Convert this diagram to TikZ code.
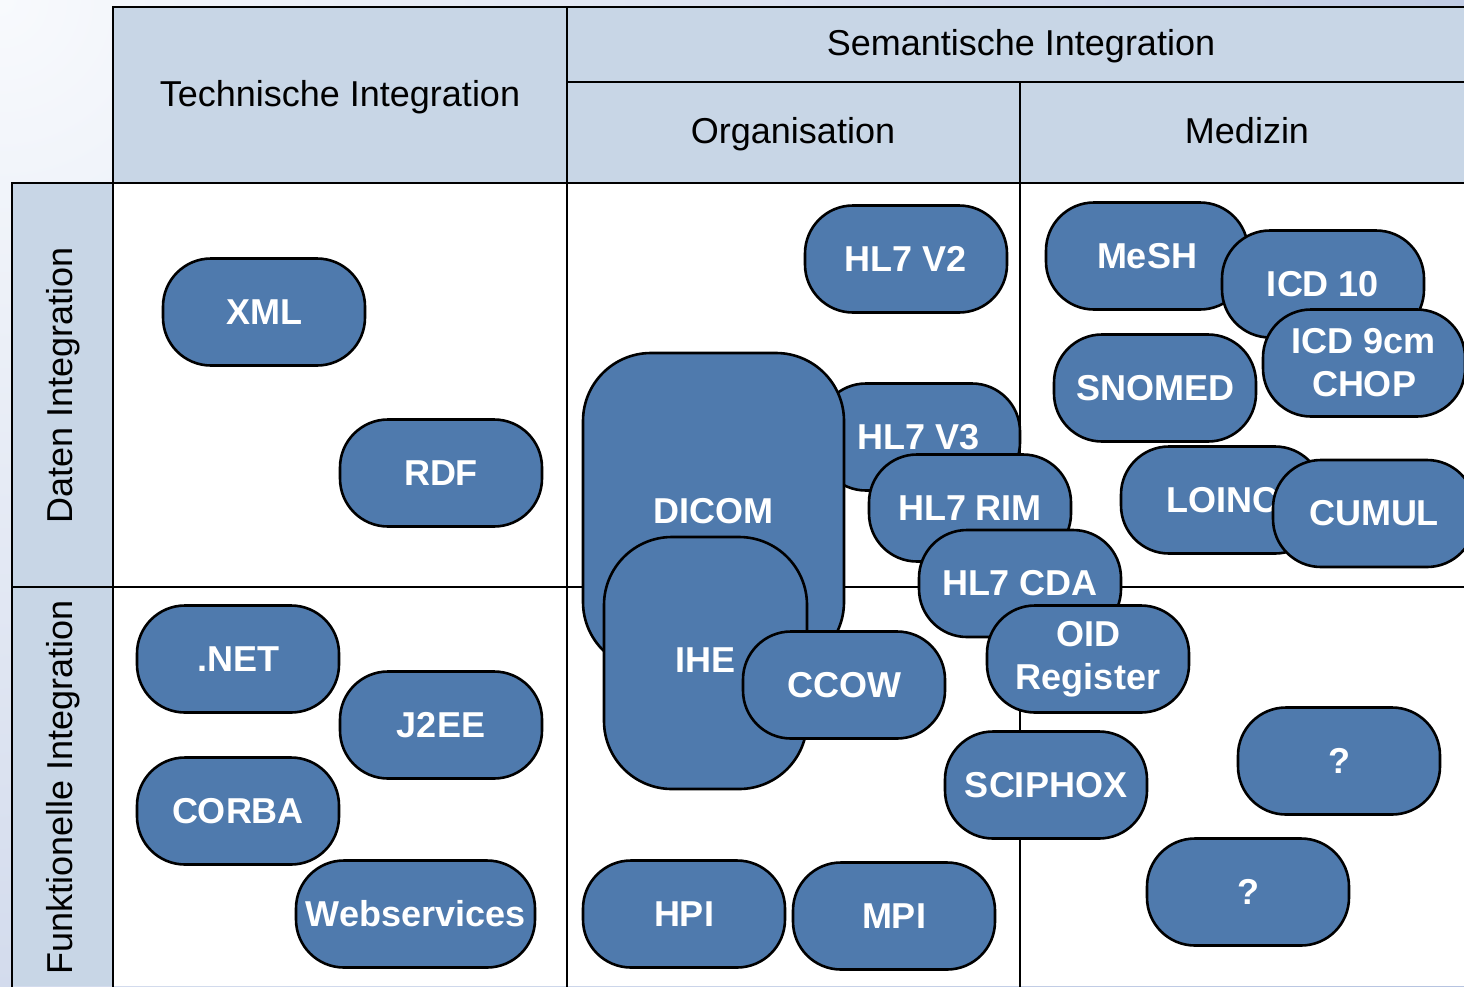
\documentclass[tikz,border=0pt]{standalone}
\usepackage{fontspec}
\setmainfont{Liberation Sans}
\definecolor{headfill}{RGB}{200,214,230}
\definecolor{pillfill}{RGB}{79,122,173}
\definecolor{bginner}{RGB}{248,250,253}
\definecolor{bgouter}{RGB}{128,150,200}
\tikzset{
  gridline/.style={line width=2.6pt, line cap=rect},
  headtext/.style={font=\fontsize{36}{43}\selectfont, text=black, inner sep=0pt},
  pill/.style={draw=black, line width=2.6pt, fill=pillfill, rounded corners=48pt,
    minimum width=202pt, minimum height=107pt, inner sep=0pt, align=center,
    text=white, font=\fontsize{36}{43}\selectfont\bfseries},
  bigpill/.style={pill, rounded corners=68pt},
}
\begin{document}
\begin{tikzpicture}[x=1pt,y=-1pt]
\useasboundingbox (0,0) rectangle (1464,986);
\clip (0,0) rectangle (1464,986);

% slide background
\shade[inner color=bginner, outer color=bgouter] (0,0) circle (3200);

% table fills
\fill[headfill] (113,7) rectangle (1464,183);
\fill[headfill] (12,183) rectangle (113,986);
\fill[white] (113,183) rectangle (1464,986);

% table rules
\draw[gridline] (113,990) -- (113,7) -- (1470,7);
\draw[gridline] (567,7) -- (567,990);
\draw[gridline] (567,82) -- (1470,82);
\draw[gridline] (1020,82) -- (1020,990);
\draw[gridline] (12,990) -- (12,183) -- (1470,183);
\draw[gridline] (12,587) -- (1470,587);

% headings
\node[headtext] (tech) at (340,97) {Technische Integration};
\node[headtext] (sem) at (1021,46) {Semantische Integration};
\node[headtext] (org) at (793,134) {Organisation};
\node[headtext] (med) at (1247,131) {Medizin};
\node[headtext, rotate=90] (daten) at (63,385) {Daten Integration};
\node[headtext, rotate=90] (funk) at (63,787) {Funktionelle Integration};

% technical integration
\node[pill] (xml) at (264,312) {XML};
\node[pill] (rdf) at (441,473) {RDF};
\node[pill] (net) at (238,659) {.NET};
\node[pill] (j2ee) at (441,725) {J2EE};
\node[pill] (corba) at (238,811) {CORBA};
\node[pill, minimum width=239pt] (ws) at (415.5,914) {Webservices};

% organisation
\node[pill] (hlvtwo) at (906,259) {HL7 V2};
\node[pill] (hlvthree) at (919,437) {HL7 V3};
\node[bigpill, minimum width=261pt, minimum height=317pt] (dicom) at (713.5,511.5) {DICOM};
\node[bigpill, minimum width=203pt, minimum height=252pt] (ihe) at (705.5,663) {};
\node[text=white, font=\fontsize{36}{43}\selectfont\bfseries, inner sep=0pt] (ihelabel) at (705,660) {IHE};
\node[pill] (ccow) at (844,685) {CCOW};
\node[pill] (rim) at (970,508) {HL7 RIM};
\node[pill] (cda) at (1020,583.5) {HL7 CDA};
\node[pill] (oid) at (1088,659) {OID\\Register};
\node[pill] (sciphox) at (1046,785) {SCIPHOX};
\node[pill] (hpi) at (684,914) {HPI};
\node[pill] (mpi) at (894,916) {MPI};

% medicine
\node[pill] (mesh) at (1147,256) {MeSH};
\node[pill] (icdten) at (1323,284) {ICD 10};
\node[pill] (icdnine) at (1364,363) {ICD 9cm\\CHOP};
\node[pill] (snomed) at (1155,388) {SNOMED};
\node[pill] (loinc) at (1222,500) {LOINC};
\node[pill] (cumul) at (1374,513.5) {CUMUL};
\node[pill] (qone) at (1339,761) {?};
\node[pill] (qtwo) at (1248,892) {?};
\end{tikzpicture}
\end{document}
